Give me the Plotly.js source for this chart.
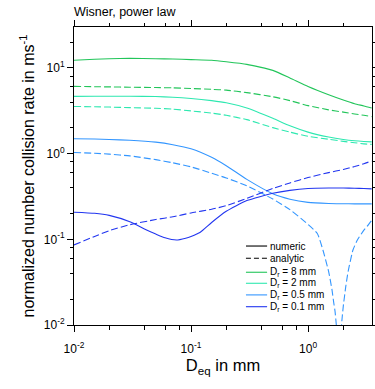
<!DOCTYPE html>
<html>
<head>
<meta charset="utf-8">
<script src="https://cdn.plot.ly/plotly-3.0.1.min.js"></script>
<style>html,body{margin:0;padding:0;background:#fff;}#chart{width:375px;height:389px;}</style>
</head>
<body>
<div id="chart"></div>
<script>
// ---- data ----
const deq = [0.01, 0.015, 0.02, 0.03, 0.05, 0.07, 0.1, 0.15, 0.2, 0.3, 0.5, 0.7, 1.0, 1.5, 2.0, 2.5, 3.0, 3.5];
const num8 = [12.3, 12.6, 12.8, 12.9, 12.8, 12.7, 12.5, 12.3, 11.8, 11.0, 9.35, 7.62, 6.07, 4.86, 4.22, 3.82, 3.60, 3.40];
const ana8 = [6.08, 6.03, 6.0, 5.95, 5.9, 5.85, 5.75, 5.62, 5.5, 5.15, 4.6, 4.15, 3.63, 3.24, 3.05, 2.9, 2.8, 2.7];
const num2 = [4.65, 4.66, 4.67, 4.66, 4.63, 4.55, 4.4, 4.15, 3.92, 3.4, 2.58, 2.11, 1.78, 1.56, 1.46, 1.41, 1.385, 1.37];
const ana2 = [3.55, 3.52, 3.49, 3.44, 3.38, 3.30, 3.15, 2.97, 2.80, 2.49, 2.01, 1.78, 1.59, 1.47, 1.39, 1.34, 1.30, 1.28];
const num05 = [1.49, 1.48, 1.46, 1.43, 1.36, 1.27, 1.14, 0.905, 0.723, 0.50, 0.34, 0.294, 0.27, 0.262, 0.260, 0.259, 0.259, 0.259];
const deqA05 = [0.01, 0.015, 0.02, 0.03, 0.05, 0.07, 0.1, 0.15, 0.2, 0.3, 0.5, 0.7, 1.0, 1.2, 1.34, 1.5, 1.6, 1.66, 1.7, 1.75, 1.8, 1.84, 1.88, 1.92, 1.96, 2.0, 2.1, 2.2, 2.42, 2.64, 3.0, 3.19, 3.5];
const ana05 = [1.03, 1.01, 0.985, 0.94, 0.85, 0.78, 0.70, 0.59, 0.52, 0.42, 0.295, 0.222, 0.149, 0.117, 0.075, 0.042, 0.026, 0.018, 0.0145, 0.0095, 0.0045, 0.0004, 0.0045, 0.009, 0.0125, 0.0165, 0.028, 0.042, 0.075, 0.098, 0.128, 0.141, 0.167];
const deqN01 = [0.01, 0.015, 0.02, 0.03, 0.04, 0.05, 0.06, 0.075, 0.09, 0.1, 0.12, 0.15, 0.2, 0.3, 0.5, 0.7, 1.0, 1.5, 2.0, 2.5, 3.0, 3.5];
const num01 = [0.207, 0.201, 0.19, 0.16, 0.132, 0.115, 0.104, 0.098, 0.103, 0.108, 0.121, 0.157, 0.212, 0.283, 0.344, 0.372, 0.391, 0.396, 0.396, 0.394, 0.391, 0.388];
const ana01 = [0.086, 0.108, 0.126, 0.148, 0.170, 0.183, 0.203, 0.224, 0.247, 0.300, 0.392, 0.455, 0.525, 0.60, 0.652, 0.706, 0.762, 0.82];

const seriesNames = ['D<sub>r</sub> = 8 mm', 'D<sub>r</sub> = 2 mm', 'D<sub>r</sub> = 0.5 mm', 'D<sub>r</sub> = 0.1 mm'];
const seriesColors = ['#22c55a', '#2ee8b0', '#3396ff', '#2236f0'];
const styleLabels = ['numeric', 'analytic'];

const xTickVals = [0.01, 0.1, 1];
const xTickText = ['10<sup>-2</sup>', '10<sup>-1</sup>', '10<sup>0</sup>'];
const yTickVals = [0.01, 0.1, 1, 10];
const yTickText = ['10<sup>-2</sup>', '10<sup>-1</sup>', '10<sup>0</sup>', '10<sup>1</sup>'];
const minorMult = [2, 4, 6, 8];

// ---- build ----
const numX = [deq, deq, deq, deqN01];
const numY = [num8, num2, num05, num01];
const anaX = [deq, deq, deqA05, deq];
const anaY = [ana8, ana2, ana05, ana01];

const traces = [];
for (let i = 0; i < 4; i++) {
  traces.push({x: numX[i], y: numY[i], type: 'scatter', mode: 'lines', line: {color: seriesColors[i], width: 1.1, shape: 'spline', smoothing: 0.5}, hoverinfo: 'skip'});
  traces.push({x: anaX[i], y: anaY[i], type: 'scatter', mode: 'lines', line: {color: seriesColors[i], width: 1.1, dash: '7px,3px', shape: 'spline', smoothing: 0.5}, hoverinfo: 'skip'});
}

function minorVals(lo, hi) {
  const v = [];
  for (let e = lo; e <= hi; e++) minorMult.forEach(m => v.push(m * Math.pow(10, e)));
  return v;
}

// legend (manual)
const legX0 = 0.577, legX1 = 0.648, legTx = 0.652;
const legY = [0.265, 0.224, 0.177, 0.140, 0.101, 0.0614];
const shapes = [];
const annotations = [];
const legLabels = styleLabels.concat(seriesNames);
const legColors = ['#000', '#000'].concat(seriesColors);
const legDash = ['solid', '5px,3px', 'solid', 'solid', 'solid', 'solid'];
legLabels.forEach((lab, i) => {
  shapes.push({type: 'line', xref: 'paper', yref: 'paper', x0: legX0, x1: legX1, y0: legY[i], y1: legY[i], line: {color: legColors[i], width: 1.1, dash: legDash[i]}});
  annotations.push({xref: 'paper', yref: 'paper', x: legTx, y: legY[i], xanchor: 'left', yanchor: 'middle', text: lab, showarrow: false, font: {size: 10, color: '#000'}});
});

const axisCommon = {
  type: 'log', showgrid: false, zeroline: false, showline: true, linecolor: '#000', linewidth: 1,
  mirror: 'ticks', ticks: 'outside', ticklen: 6, tickwidth: 1, tickcolor: '#000',
  tickmode: 'array', tickfont: {size: 12, color: '#000'}
};

const layout = {
  width: 375, height: 389,
  margin: {l: 74, r: 3, t: 27, b: 64},
  paper_bgcolor: '#fff', plot_bgcolor: '#fff',
  font: {family: 'Liberation Sans, Arial, sans-serif', color: '#000'},
  showlegend: false,
  title: {text: 'Wisner, power law', x: 74/375, xref: 'container', xanchor: 'left', y: 1 - 12/389, yref: 'container', yanchor: 'middle', font: {size: 12.5, color: '#000'}},
  xaxis: Object.assign({}, axisCommon, {
    range: [-2, Math.log10(3.52)], tickvals: xTickVals, ticktext: xTickText, ticklabelstandoff: 7,
    minor: {tickvals: minorVals(-2, 0), ticks: 'outside', ticklen: 3.5, tickcolor: '#000', showgrid: false},
    title: {text: 'D<sub>eq</sub> in mm', font: {size: 16.5}, standoff: 4}
  }),
  yaxis: Object.assign({}, axisCommon, {
    range: [-2, Math.log10(30)], tickvals: yTickVals, ticktext: yTickText,
    minor: {tickvals: minorVals(-2, 1), ticks: 'outside', ticklen: 3.5, tickcolor: '#000', showgrid: false},
    title: {text: 'normalized number collision rate in ms<sup>-1</sup>', font: {size: 16}, standoff: 5}
  }),
  shapes: shapes,
  annotations: annotations
};

Plotly.newPlot('chart', traces, layout, {displayModeBar: false, staticPlot: true});
</script>
</body>
</html>
